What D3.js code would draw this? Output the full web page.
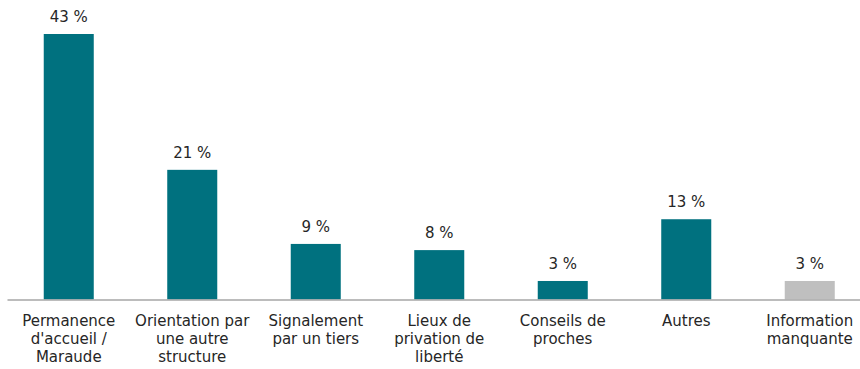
<!DOCTYPE html>
<html>
<head>
<meta charset="utf-8">
<script src="https://cdn.jsdelivr.net/npm/d3@7"></script>
<style>
  html, body { margin: 0; padding: 0; background: #fff; }
  svg { display: block; }
  text { font-family: Verdana, "DejaVu Sans", sans-serif; fill: #262626; }
</style>
</head>
<body>
<svg id="chart" width="860" height="369"></svg>
<script>
// Categories (line breaks mark the wrapped axis labels)
const categories = [
  "Permanence\nd'accueil /\nMaraude",
  "Orientation par\nune autre\nstructure",
  "Signalement\npar un tiers",
  "Lieux de\nprivation de\nliberté",
  "Conseils de\nproches",
  "Autres",
  "Information\nmanquante"
];
// Share of cases, in percent
const values = [43, 21, 9, 8, 3, 13, 3];
// Last category is "missing information", drawn in grey
const missing = [false, false, false, false, false, false, true];

const svg = d3.select("#chart");
const baseline = 299.5;

const x = d3.scaleBand()
  .domain(categories)
  .range([7, 871.5])
  .paddingInner(0.595)
  .paddingOuter(0.2975);

const y = d3.scaleLinear()
  .domain([0, 43])
  .range([baseline, 34]);

const data = categories.map((c, i) => ({ c, v: values[i], m: missing[i] }));

// Bars
svg.append("g")
  .selectAll("rect")
  .data(data)
  .join("rect")
  .attr("x", d => x(d.c))
  .attr("width", x.bandwidth())
  .attr("y", d => y(d.v))
  .attr("height", d => y(0) - y(d.v))
  .attr("fill", d => d.m ? "#bfbfbf" : "#00717f");

// Value labels
svg.append("g")
  .selectAll("text")
  .data(data)
  .join("text")
  .attr("x", d => x(d.c) + x.bandwidth() / 2)
  .attr("y", d => y(d.v) - 12)
  .attr("text-anchor", "middle")
  .attr("font-size", 15)
  .text(d => d.v + " %");

// Category axis
const axis = svg.append("g")
  .attr("transform", `translate(0,${baseline})`)
  .call(d3.axisBottom(x).tickSize(0).tickPadding(0));
axis.select(".domain").attr("stroke", "#a6a6a6").attr("stroke-width", 1.3);
axis.selectAll(".tick text").remove();
axis.selectAll(".tick")
  .append("text")
  .attr("text-anchor", "middle")
  .attr("font-size", 15)
  .attr("fill", "#262626")
  .style("font-family", 'Verdana, "DejaVu Sans", sans-serif')
  .each(function(d) {
    const lines = d.split("\n");
    d3.select(this).selectAll("tspan")
      .data(lines)
      .join("tspan")
      .attr("x", 0)
      .attr("y", (l, i) => 26 + i * 18)
      .text(l => l);
  });
</script>
</body>
</html>
